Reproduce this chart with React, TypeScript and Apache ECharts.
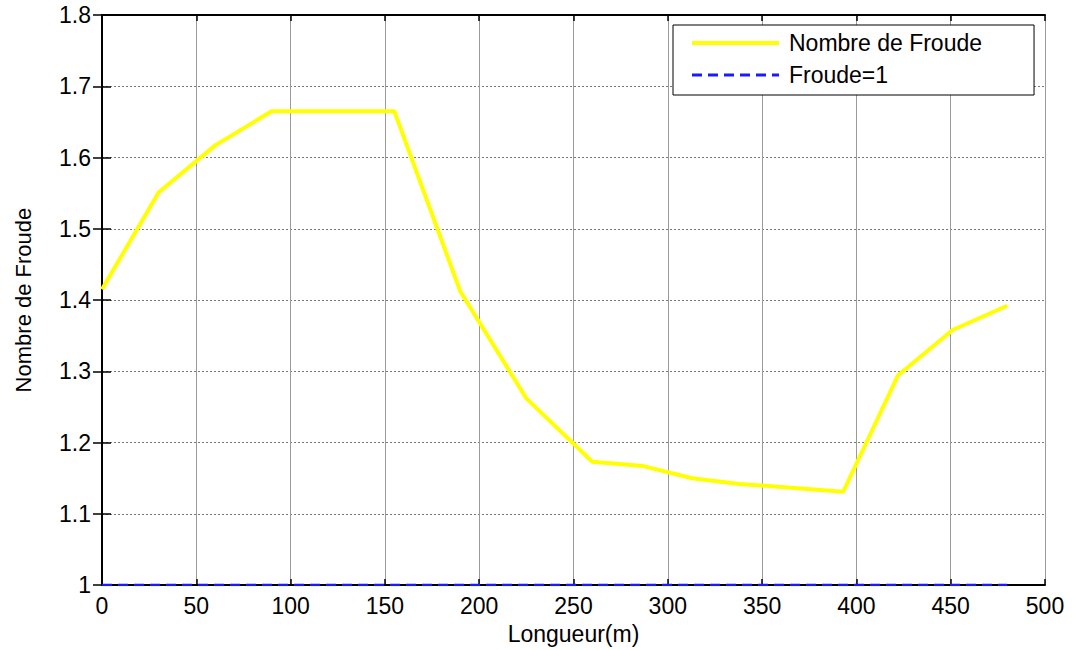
import React, { useEffect, useRef } from "react";
import * as echarts from "echarts";

const lengths = [0, 30, 60, 90, 155, 190, 225, 260, 287, 313, 338, 393, 422, 451, 480];
const froude = [1.415, 1.551, 1.617, 1.665, 1.665, 1.412, 1.262, 1.173, 1.167, 1.15, 1.142, 1.131, 1.294, 1.358, 1.392];
const unitLengths = [0, 480];
const unitValues = [1, 1];
const seriesNames = ["Nombre de Froude", "Froude=1"];

const FONT = "'Liberation Sans', Arial, sans-serif";
const YELLOW = "#ffff00";
const BLUE = "#1a1aff";

export default function App() {
  const ref = useRef<HTMLDivElement>(null);
  useEffect(() => {
    if (!ref.current) return;
    const chart = echarts.init(ref.current, null, { renderer: "svg" });
    const axisLine = { show: true, lineStyle: { color: "#000", width: 2 } };
    chart.setOption({
      animation: false,
      backgroundColor: "#fff",
      textStyle: { fontFamily: FONT },
      grid: { left: 102, right: 28, top: 15, bottom: 63, containLabel: false },
      legend: {
        show: true,
        orient: "vertical",
        left: 673,
        top: 25,
        padding: [5, 52, 7, 17],
        itemWidth: 87,
        itemHeight: 14,
        itemGap: 6,
        backgroundColor: "#fff",
        borderColor: "#000",
        borderWidth: 1,
        borderRadius: 0,
        itemStyle: { opacity: 0 },
        textStyle: { fontFamily: FONT, fontSize: 23, color: "#000", lineHeight: 26, padding: [0, 0, 0, 5] },
        data: [
          { name: seriesNames[0], lineStyle: { color: YELLOW, width: 4, type: "solid" } },
          { name: seriesNames[1], lineStyle: { color: BLUE, width: 3, type: [10, 6] } },
        ],
      },
      xAxis: [
        {
          type: "value",
          position: "bottom",
          min: 0,
          max: 500,
          interval: 50,
          name: "Longueur(m)",
          nameLocation: "middle",
          nameGap: 29,
          nameTextStyle: { fontFamily: FONT, fontSize: 23, color: "#000" },
          axisLine,
          axisTick: { show: true, inside: true, length: 6, lineStyle: { color: "#000", width: 1.5 } },
          axisLabel: { fontFamily: FONT, fontSize: 23, color: "#000", margin: 9 },
          splitLine: { show: true, lineStyle: { color: "#9a9a9a", width: 1, type: "solid" } },
        },
        {
          type: "value",
          position: "top",
          min: 0,
          max: 500,
          interval: 50,
          axisLine,
          axisTick: { show: true, inside: true, length: 6, lineStyle: { color: "#000", width: 1.5 } },
          axisLabel: { show: false },
          splitLine: { show: false },
        },
      ],
      yAxis: [
        {
          type: "value",
          position: "left",
          min: 1,
          max: 1.8,
          interval: 0.1,
          name: "Nombre de Froude",
          nameLocation: "middle",
          nameGap: 68,
          nameRotate: 90,
          nameTextStyle: { fontFamily: FONT, fontSize: 22, color: "#000" },
          axisLine,
          axisTick: { show: true, inside: true, length: 9, lineStyle: { color: "#000", width: 1.5 } },
          axisLabel: { fontFamily: FONT, fontSize: 23, color: "#000", margin: 11 },
          splitLine: { show: true, lineStyle: { color: "#777", width: 1, type: [2, 2] } },
        },
        {
          type: "value",
          position: "right",
          min: 1,
          max: 1.8,
          interval: 0.1,
          axisLine,
          axisTick: { show: true, inside: true, length: 9, lineStyle: { color: "#000", width: 1.5 } },
          axisLabel: { show: false },
          splitLine: { show: false },
        },
      ],
      series: [
        {
          name: seriesNames[0],
          type: "line",
          xAxisIndex: 0,
          yAxisIndex: 0,
          symbol: "none",
          data: lengths.map((x, i) => [x, froude[i]]),
          lineStyle: { color: YELLOW, width: 4 },
          itemStyle: { color: YELLOW },
          z: 3,
        },
        {
          name: seriesNames[1],
          type: "line",
          xAxisIndex: 0,
          yAxisIndex: 0,
          symbol: "none",
          data: unitLengths.map((x, i) => [x, unitValues[i]]),
          lineStyle: { color: BLUE, width: 2.5, type: [10, 6] },
          itemStyle: { color: BLUE },
          z: 4,
        },
      ],
    });
    return () => chart.dispose();
  }, []);
  return (
    <div
      ref={ref}
      style={{ position: "fixed", left: 0, top: 0, width: 1073, height: 650, background: "#fff" }}
    />
  );
}
